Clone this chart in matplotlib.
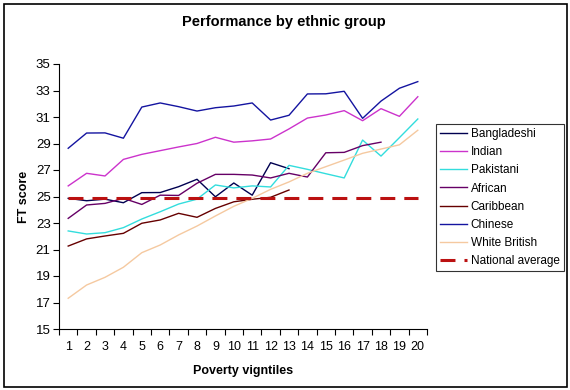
import matplotlib
matplotlib.use("Agg")
import matplotlib.pyplot as plt
from matplotlib.patches import Rectangle
import numpy as np

plt.rcParams['font.family'] = ['Liberation Sans', 'DejaVu Sans']

vigntiles = list(range(1, 21))

bangladeshi = [24.86, 24.68, 24.8, 24.53, 25.29, 25.3, 25.74, 26.3, 24.98, 26.02, 25.1, 27.55, 27.1]
indian = [25.8, 26.75, 26.55, 27.8, 28.18, 28.46, 28.74, 29.0, 29.47, 29.1, 29.2, 29.34, 30.1,
          30.92, 31.15, 31.48, 30.72, 31.63, 31.05, 32.53]
pakistani = [22.4, 22.17, 22.27, 22.65, 23.3, 23.85, 24.43, 24.8, 25.87, 25.65, 25.8, 25.72, 27.35,
             27.05, 26.72, 26.4, 29.26, 28.05, 29.44, 30.85]
african = [23.35, 24.36, 24.48, 24.86, 24.4, 25.1, 25.08, 26.0, 26.67, 26.67, 26.62, 26.4, 26.75,
           26.47, 28.3, 28.33, 28.84, 29.1]
caribbean = [21.26, 21.8, 22.02, 22.22, 22.98, 23.23, 23.73, 23.43, 24.1, 24.6, 24.79, 24.94, 25.49]
chinese = [28.64, 29.79, 29.8, 29.4, 31.75, 32.06, 31.78, 31.45, 31.7, 31.83, 32.06, 30.77, 31.13,
           32.74, 32.75, 32.94, 30.9, 32.2, 33.17, 33.67]
white_british = [17.32, 18.32, 18.9, 19.66, 20.76, 21.34, 22.1, 22.77, 23.53, 24.26, 24.86, 25.54, 26.1,
                 26.75, 27.25, 27.75, 28.26, 28.58, 28.9, 30.0]
national_average = [24.9] * 20

series = [
    ("Bangladeshi", bangladeshi, "#000050"),
    ("Indian", indian, "#CC33CC"),
    ("Pakistani", pakistani, "#33DDDD"),
    ("African", african, "#660066"),
    ("Caribbean", caribbean, "#660000"),
    ("Chinese", chinese, "#1414A0"),
    ("White British", white_british, "#F5C9A0"),
]

W, H = 570, 390
fig = plt.figure(figsize=(W / 100, H / 100), dpi=100)
fig.patch.set_facecolor('white')
fig.patches.append(Rectangle((3.5 / W, 3.5 / H), 563 / W, 383 / H, transform=fig.transFigure,
                             fill=False, edgecolor='black', linewidth=1.2))

ax = fig.add_axes([59 / W, 1 - 329 / H, (427 - 59) / W, (329 - 64) / H])

for name, vals, color in series:
    ax.plot(vigntiles[:len(vals)], vals, color=color, linewidth=1.0, label=name)
ax.plot(vigntiles, national_average, color="#BB1111", linewidth=2.2, dashes=(4.9, 2.95),
        label="National average")

ax.set_xlim(0.5, 20.5)
ax.set_ylim(15, 35)
ax.set_yticks(np.arange(15, 36, 2))
ax.set_xticks(vigntiles)
ax.set_xticks(np.arange(0.5, 21, 1), minor=True)
ax.tick_params(axis='x', which='major', length=0, labelsize=9, pad=9)
ax.tick_params(axis='x', which='minor', length=4, direction='out', width=0.8)
ax.tick_params(axis='y', length=4, direction='out', labelsize=9.5, width=0.8, pad=2)

for s in ['top', 'right']:
    ax.spines[s].set_visible(False)
for s in ['left', 'bottom']:
    ax.spines[s].set_linewidth(0.8)

ax.set_xlabel("Poverty vigntiles", fontsize=9, fontweight='bold', labelpad=8)
ax.set_ylabel("FT score", fontsize=9, fontweight='bold', labelpad=4)
fig.text(284 / W, 1 - 22 / H, "Performance by ethnic group", ha='center', va='center',
         fontsize=10.5, fontweight='bold')

leg = ax.legend(loc='upper left', bbox_to_anchor=(436 / W, 1 - 124 / H),
                bbox_transform=fig.transFigure, fontsize=8.5, frameon=True, fancybox=False,
                edgecolor='black', handlelength=2.3, handletextpad=0.3, labelspacing=0.52,
                borderpad=0.35, borderaxespad=0)
leg.get_frame().set_linewidth(0.8)

fig.savefig("out.png", dpi=100, facecolor='white')
